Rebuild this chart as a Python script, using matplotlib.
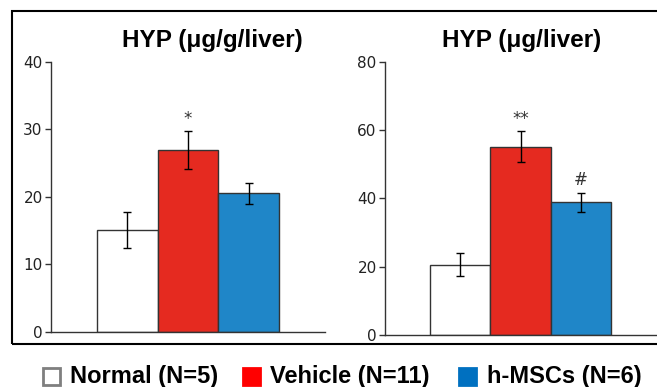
import matplotlib
matplotlib.use("Agg")
import matplotlib.pyplot as plt
from matplotlib.patches import Rectangle

groups = ["Normal (N=5)", "Vehicle (N=11)", "h-MSCs (N=6)"]
bar_colors = ["#FFFFFF", "#E52A20", "#1F86C8"]
legend_face = ["#FFFFFF", "#FF0000", "#0070C0"]
legend_edge = ["#7F7F7F", "#FF0000", "#0070C0"]

hyp_per_g = [15.1, 26.9, 20.5]
hyp_per_g_err = [2.7, 2.75, 1.55]
hyp_per_g_marks = ["", "*", ""]

hyp_total = [20.6, 55.1, 38.8]
hyp_total_err = [3.4, 4.6, 2.9]
hyp_total_marks = ["", "**", "#"]

W, H = 657, 387
fig = plt.figure(figsize=(W / 100, H / 100), dpi=100)

def px_axes(x0, x1, ytop, ybot):
    return fig.add_axes([x0 / W, 1 - ybot / H, (x1 - x0) / W, (ybot - ytop) / H])

def panel(ax, vals, errs, marks, ymax, step, title, title_x):
    x = list(range(len(vals)))
    ax.bar(x, vals, width=1.0, color=bar_colors, edgecolor="#333333", linewidth=1.0)
    ax.errorbar(x, vals, yerr=errs, fmt="none", ecolor="black", elinewidth=1.0,
                capsize=3, capthick=1.0)
    for xi, v, e, m in zip(x, vals, errs, marks):
        if m:
            ax.text(xi, v + e + ymax * 0.045, m, ha="center", va="center",
                    fontsize=12, color="#333333")
    ax.set_xlim(-1.254, 3.254)
    ax.set_ylim(0, ymax)
    ax.set_yticks(list(range(0, ymax + 1, step)))
    ax.set_xticks([])
    for s in ["top", "right"]:
        ax.spines[s].set_visible(False)
    for s in ["left", "bottom"]:
        ax.spines[s].set_color("#333333")
        ax.spines[s].set_linewidth(1.0)
    ax.tick_params(axis="y", direction="out", length=4, width=1, color="#333333",
                   labelsize=11, labelcolor="#222222", pad=2)
    ax.patch.set_alpha(0)
    fig.text(title_x / W, 1 - 40 / H, title, ha="center", va="center",
             fontsize=17.5, fontweight="bold", family="Liberation Sans")

ax1 = px_axes(51, 325, 61.5, 332)
panel(ax1, hyp_per_g, hyp_per_g_err, hyp_per_g_marks, 40, 10, "HYP (μg/g/liver)", 212)
ax2 = px_axes(385, 656, 61.7, 335)
panel(ax2, hyp_total, hyp_total_err, hyp_total_marks, 80, 20, "HYP (μg/liver)", 522)

# outer frame
fig.patches.append(Rectangle((11.5 / W, 1 - 344 / H), 660 / W, 333 / H,
                             transform=fig.transFigure, fill=False,
                             edgecolor="black", linewidth=1.5))

# legend
sq_x = [43, 243, 459]
tx_x = [70, 270, 487]
ly = 376.5
for i, g in enumerate(groups):
    fig.patches.append(Rectangle((sq_x[i] / W, 1 - (ly + 8.5) / H), 17 / W, 17 / H,
                                 transform=fig.transFigure, facecolor=legend_face[i],
                                 edgecolor=legend_edge[i], linewidth=2))
    fig.text(tx_x[i] / W, 1 - (ly + 0.5) / H, g, ha="left", va="center",
             fontsize=17, fontweight="bold", family="Liberation Sans")

fig.savefig("out.png", dpi=100)
